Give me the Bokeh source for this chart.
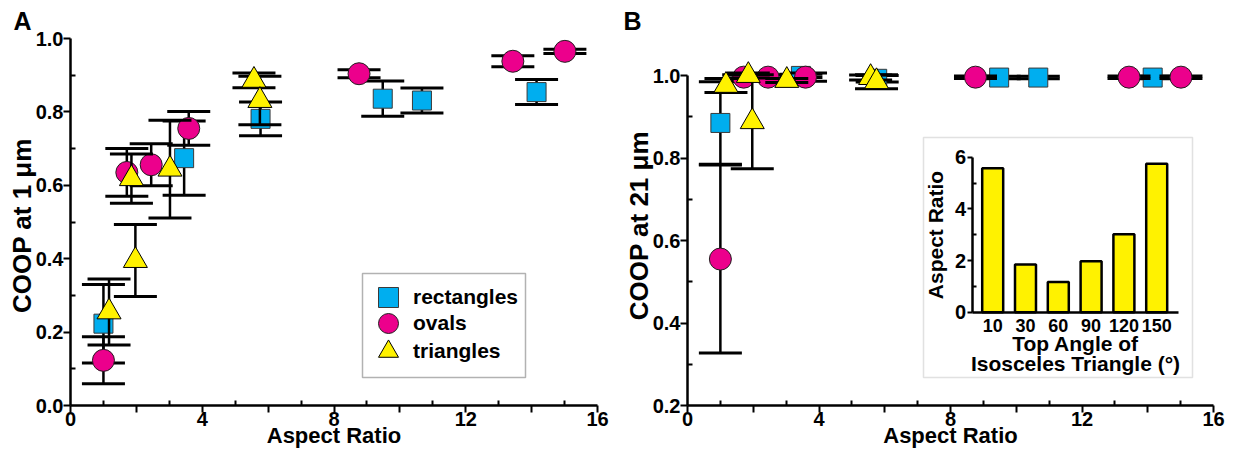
from bokeh.plotting import figure
from bokeh.models import (ColumnDataSource, Range1d, FixedTicker, LinearAxis, Legend, LegendItem,
                          BoxAnnotation, PrintfTickFormatter, CustomJSTickFormatter)
from bokeh.layouts import row
from bokeh.embed import file_html
from bokeh.resources import INLINE

FONT = "Liberation Sans"

# ---------------- data ----------------
rect_ar = [1.00, 3.45, 5.77, 9.48, 10.67, 14.15]
rect_coop1 = [0.223, 0.674, 0.781, 0.836, 0.831, 0.854]
rect_err1 = [0.107, 0.101, 0.046, 0.048, 0.034, 0.034]
rect_coop21 = [0.885, 0.999, 0.992, 0.995, 0.995, 0.995]
rect_err21 = [0.100, 0.004, 0.008, 0.003, 0.003, 0.003]

oval_ar = [1.00, 1.71, 2.45, 3.59, 8.76, 13.43, 15.01]
oval_coop1 = [0.123, 0.635, 0.656, 0.755, 0.904, 0.938, 0.965]
oval_err1 = [0.064, 0.065, 0.057, 0.046, 0.011, 0.015, 0.006]
oval_coop21 = [0.555, 0.996, 0.996, 0.996, 0.996, 0.996, 0.996]
oval_err21 = [0.228, 0.006, 0.006, 0.010, 0.003, 0.003, 0.003]

tri_angles = ["10", "30", "60", "90", "120", "150"]
tri_ar = [5.57, 1.85, 1.17, 1.97, 3.02, 5.75]
tri_coop1 = [0.886, 0.618, 0.255, 0.395, 0.644, 0.831]
tri_err1 = [0.020, 0.067, 0.090, 0.098, 0.133, 0.066]
tri_coop21 = [0.995, 1.000, 0.976, 0.888, 0.988, 0.985]
tri_err21 = [0.006, 0.006, 0.017, 0.114, 0.005, 0.017]

x_ticks = [0, 2, 4, 6, 8, 10, 12, 14, 16]
x_minor = [1, 3, 5, 7, 9, 11, 13, 15]

SQ, OV, TR = "#00AEEF", "#EC008C", "#FFF200"

# ---------------- geometry (page pixels) ----------------
W_A, W_B, H = 615, 620, 451
A_L, A_R = 70, 597
B_L, B_R = 687, 1213
F_T, F_B = 38, 405                      # common frame top / bottom (row aligns frames)
B_PX_PER_UNIT = (F_B - 75) / 0.8        # panel B: y=1.0 sits at pixel 75
B_YTOP = 1.0 + (75 - F_T) / B_PX_PER_UNIT


def style_axis(ax, label_size="20px", title_size="22px"):
    ax.axis_line_width = 2.5
    ax.axis_line_color = "black"
    ax.major_tick_line_width = 2
    ax.minor_tick_line_width = 2
    ax.major_tick_line_color = "black"
    ax.minor_tick_line_color = "black"
    ax.major_tick_out = 7
    ax.major_tick_in = 0
    ax.minor_tick_out = 0
    ax.minor_tick_in = 5
    ax.major_label_text_font = FONT
    ax.major_label_text_font_style = "bold"
    ax.major_label_text_font_size = label_size
    ax.major_label_text_color = "black"
    ax.axis_label_text_font = FONT
    ax.axis_label_text_font_style = "bold"
    ax.axis_label_text_font_size = title_size
    ax.axis_label_text_color = "black"


def make_fig(width, yr, ml, mr):
    p = figure(width=width, height=H, x_range=Range1d(0, 16), y_range=yr,
               output_backend="svg", toolbar_location=None,
               min_border_left=ml, min_border_right=mr,
               min_border_top=F_T, min_border_bottom=H - F_B)
    p.xgrid.visible = False
    p.ygrid.visible = False
    p.outline_line_color = None
    xa = p.xaxis[0]
    ya = p.yaxis[0]
    style_axis(xa)
    style_axis(ya, title_size="26px")
    xa.ticker = FixedTicker(ticks=x_ticks, minor_ticks=x_minor)
    xa.formatter = CustomJSTickFormatter(code="const t = Math.round(tick); return (t % 4 == 0) ? String(t) : '';")
    xa.axis_label = "Aspect Ratio"
    xa.major_label_standoff = -1
    xa.axis_label_standoff = -6
    ya.major_label_standoff = 0
    ya.axis_label_standoff = -4
    ya.formatter = PrintfTickFormatter(format="%.1f")
    return p


def series(p, xs, ys, es, marker, size, color, line_color):
    lo = [y - e for y, e in zip(ys, es)]
    hi = [y + e for y, e in zip(ys, es)]
    src = ColumnDataSource(dict(x=xs, y=ys, lo=lo, hi=hi))
    p.segment(x0="x", y0="lo", x1="x", y1="hi", source=src, line_color="black", line_width=2.5)
    p.scatter(x="x", y="lo", source=src, marker="dash", size=43, line_color="black", line_width=3)
    p.scatter(x="x", y="hi", source=src, marker="dash", size=43, line_color="black", line_width=3)
    return p.scatter(x="x", y="y", source=src, marker=marker, size=size,
                     fill_color=color, line_color=line_color, line_width=1)


def panel_title(p, text, offset, standoff):
    p.title.text = text
    p.title.align = "left"
    p.title.offset = offset
    p.title.standoff = standoff
    p.title.text_font = FONT
    p.title.text_font_style = "bold"
    p.title.text_font_size = "25px"
    p.title.text_color = "black"


# ---------------- panel A ----------------
pA = make_fig(W_A, Range1d(0, 1.0), A_L, W_A - A_R)
pA.yaxis[0].ticker = FixedTicker(ticks=[0, 0.2, 0.4, 0.6, 0.8, 1.0], minor_ticks=[0.1, 0.3, 0.5, 0.7, 0.9])
pA.yaxis[0].axis_label = "COOP  at 1 \u03bcm"
panel_title(pA, "A", -57, 7)

rA = series(pA, rect_ar, rect_coop1, rect_err1, "square", 19, SQ, "#3a3a3a")
oA = series(pA, oval_ar, oval_coop1, oval_err1, "circle", 22, OV, "#231F20")
tA = series(pA, tri_ar, tri_coop1, tri_err1, "triangle", 24, TR, "black")

# legend frame (in panel A data units) and one legend per entry so rows sit close together
A_PX = (A_R - A_L) / 16.0
leg_box = BoxAnnotation(left=(362 - A_L) / A_PX, right=(525 - A_L) / A_PX,
                        top=(F_B - 273) / (F_B - F_T), bottom=(F_B - 377) / (F_B - F_T),
                        fill_color="white", fill_alpha=1.0, line_color="black", line_width=1.5)
pA.add_layout(leg_box)
for lab, rend, ypos in [("rectangles", rA, 83), ("ovals", oA, 57), ("triangles", tA, 29)]:
    lg = Legend(items=[LegendItem(label=lab, renderers=[rend])],
                location=(293, ypos), margin=0, padding=0,
                glyph_width=50, glyph_height=50, label_standoff=0, label_height=20,
                border_line_color=None, background_fill_alpha=0.0,
                label_text_font=FONT, label_text_font_style="bold", label_text_font_size="21px",
                label_text_color="black")
    pA.add_layout(lg, "center")

# ---------------- panel B ----------------
pB = make_fig(W_B, Range1d(0.2, B_YTOP), B_L - W_A, W_A + W_B - B_R)
pB.yaxis[0].ticker = FixedTicker(ticks=[0.2, 0.4, 0.6, 0.8, 1.0], minor_ticks=[0.3, 0.5, 0.7, 0.9])
pB.yaxis[0].bounds = (0.2, 1.0)
pB.yaxis[0].axis_label = "COOP  at 21 \u03bcm"
panel_title(pB, "B", -64, 7)

series(pB, rect_ar, rect_coop21, rect_err21, "square", 19, SQ, "#3a3a3a")
series(pB, oval_ar, oval_coop21, oval_err21, "circle", 22, OV, "#231F20")
series(pB, tri_ar, tri_coop21, tri_err21, "triangle", 24, TR, "black")

# ---------------- inset (drawn in panel B on its own ranges) ----------------
I_X0, I_DX = 992.2, 32.8     # page pixel of first bar centre, pixels per bar slot
I_Y0, I_DY = 311.7, 25.83    # page pixel of aspect ratio 0, pixels per unit
pB.extra_x_ranges = {"ix": Range1d((B_L - I_X0) / I_DX, (B_R - I_X0) / I_DX)}
pB.extra_y_ranges = {"iy": Range1d(-(F_B - I_Y0) / I_DY, (I_Y0 - F_T) / I_DY)}

box = BoxAnnotation(left=(923 - I_X0) / I_DX, right=(1192 - I_X0) / I_DX,
                    top=(I_Y0 - 137) / I_DY, bottom=(I_Y0 - 377) / I_DY,
                    x_range_name="ix", y_range_name="iy",
                    fill_alpha=0, line_color="#9a9a9a", line_width=1.5)
pB.add_layout(box)

pB.vbar(x=list(range(len(tri_angles))), top=tri_ar, bottom=0, width=0.64,
        x_range_name="ix", y_range_name="iy",
        fill_color=TR, line_color="black", line_width=2.5)

x_lo = (971.7 - I_X0) / I_DX
x_hi = (1178 - I_X0) / I_DX
iya = LinearAxis(x_range_name="ix", y_range_name="iy", fixed_location=x_lo, bounds=(0, 6),
                 ticker=FixedTicker(ticks=[0, 2, 4, 6], minor_ticks=[1, 3, 5]))
style_axis(iya, title_size="21px")
iya.major_tick_out = 5
iya.minor_tick_in = 4
iya.major_label_standoff = 1
iya.axis_label = "Aspect Ratio"
iya.axis_label_standoff = 5
pB.add_layout(iya, "left")

ixa = LinearAxis(x_range_name="ix", y_range_name="iy", fixed_location=0, bounds=(x_lo, x_hi),
                 ticker=FixedTicker(ticks=list(range(len(tri_angles))), minor_ticks=[]),
                 formatter=CustomJSTickFormatter(args=dict(labels=tri_angles),
                                                 code="return labels[Math.round(tick)];"))
style_axis(ixa, label_size="18px", title_size="21px")
ixa.major_tick_out = 0
ixa.minor_tick_in = 0
ixa.major_label_standoff = 7
ixa.axis_label = "Top Angle of\nIsosceles Triangle (\u00b0)"
ixa.axis_label_standoff = -4
ixa.axis_label_text_line_height = 0.9
pB.add_layout(ixa, "below")

layout = row(pA, pB)
open("out.html", "w").write(file_html(layout, INLINE))
